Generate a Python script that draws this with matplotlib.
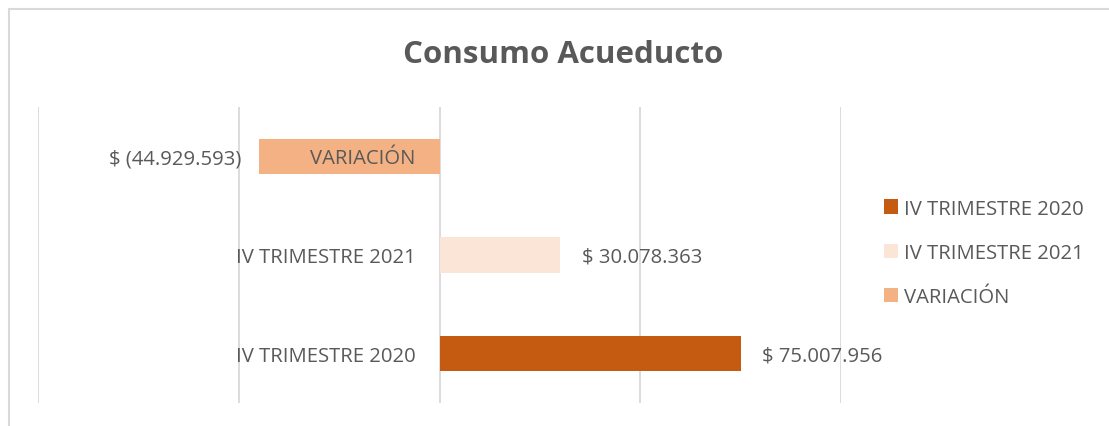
import matplotlib
matplotlib.use("Agg")
import matplotlib.pyplot as plt
from matplotlib.patches import Patch, Rectangle

# data
categories = ["IV TRIMESTRE 2020", "IV TRIMESTRE 2021", "VARIACIÓN"]
values = [75007956, 30078363, -44929593]
colors = ["#C55A11", "#FBE5D6", "#F4B183"]
xticks = [-100e6, -50e6, 0, 50e6, 100e6]

txt = "#595959"
plt.rcParams["font.family"] = ["Open Sans", "DejaVu Sans"]


def money(v):
    s = f"{abs(v):,.0f}".replace(",", ".")
    return f"$ ({s})" if v < 0 else f"$ {s}"


fig = plt.figure(figsize=(11.09, 4.27), dpi=100)
W, H = 1109, 427

# chart border (only left/top visible in reference)
fig.patches.append(Rectangle((9 / W, -0.1), 1.2, 1 - 10 / H + 0.1,
                             transform=fig.transFigure, fill=False,
                             edgecolor="#D9D9D9", linewidth=1.5))

ax = fig.add_axes([38 / W, 1 - 404 / H, (841 - 38) / W, (404 - 108) / H])
ypos = list(range(len(categories)))
ax.barh(ypos, values, height=0.36, color=colors, zorder=3)
ax.set_xlim(xticks[0], xticks[-1])
ax.set_ylim(-0.5, len(categories) - 0.5)
ax.set_xticks(xticks)
ax.xaxis.grid(True, color="#D9D9D9", linewidth=1.3, zorder=0)
ax.tick_params(left=False, bottom=False, labelleft=False, labelbottom=False)
for s in ax.spines.values():
    s.set_visible(False)

span = xticks[-1] - xticks[0]
fs = 14.6
for y, cat, v in zip(ypos, categories, values):
    # category label sits left of the zero axis
    ax.text(-span * 0.03, y - 0.02, cat, ha="right", va="center",
            fontsize=fs, color=txt, zorder=4)
    if v >= 0:
        ax.text(v + span * 0.027, y - 0.02, money(v), ha="left", va="center",
                fontsize=fs, color=txt, zorder=4)
    else:
        ax.text(v - span * 0.022, y - 0.02, money(v), ha="right", va="center",
                fontsize=fs, color=txt, zorder=4)

fig.text(563 / W, 1 - 55 / H, "Consumo Acueducto", ha="center", va="center",
         fontsize=22.5, fontweight="bold", color=txt)

handles = [Patch(facecolor=c, edgecolor="none") for c in colors]
fig.legend(handles, categories, loc="center left",
           bbox_to_anchor=(866 / W, 1 - 254 / H), frameon=False,
           fontsize=fs, labelcolor=txt, handlelength=0.7, handleheight=0.7,
           handletextpad=0.25, labelspacing=1.2)

fig.savefig("out.png", dpi=100, facecolor="white")
